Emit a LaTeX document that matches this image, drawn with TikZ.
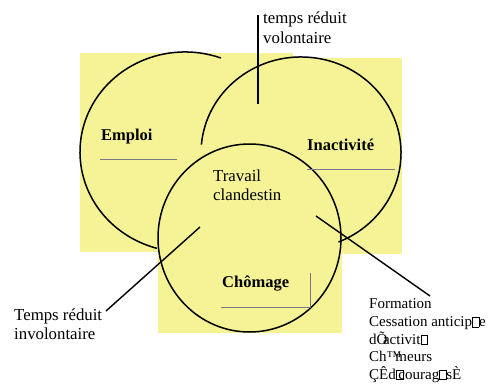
\documentclass[tikz,border=0pt]{standalone}
\usepackage{fontspec}
\setmainfont{Liberation Serif}
\newfontfamily\timesfont{Liberation Serif}
\definecolor{paper}{RGB}{245,243,150}
\definecolor{rulegray}{RGB}{120,120,135}
\newcommand\gbx{\mbox{\setlength\fboxsep{0pt}\setlength\fboxrule{0.4pt}\fbox{\rule{0pt}{0.62em}\hspace{0.42em}}}}
\tikzset{
 zone/.style={fill=paper, draw=none},
 ring/.style={draw=black, line width=1.5pt},
 guide/.style={draw=rulegray, line width=0.9pt},
 leader/.style={draw=black, line width=1.4pt},
 lbl/.style={anchor=base west, inner sep=0pt, font=\fontsize{16.8}{19}\selectfont},
 blbl/.style={anchor=base west, inner sep=0pt, font=\fontsize{16.5}{18}\selectfont\bfseries},
 tlbl/.style={anchor=base west, inner sep=0pt, font=\timesfont\fontsize{15}{18}\selectfont},
}
\begin{document}
\begin{tikzpicture}[x=1pt,y=-1pt]
\useasboundingbox (0,0) rectangle (492,385);
% yellow zones
\fill[zone] (80,53) rectangle (293,252);
\fill[zone] (200,58) rectangle (402,254);
\fill[zone] (158,200) rectangle (342,333);
% circles
\draw[ring] (220.9,58.0) arc[start angle=-70, end angle=-254.5, x radius=105, y radius=100];
\draw[ring] (201.4,144.6) arc[start angle=185, end angle=428, x radius=100, y radius=96];
\draw[ring] (249.5,238) ellipse[x radius=91.5, y radius=94];
% gray guide lines
\draw[guide] (100,159) -- (177,159);
\draw[guide] (307,169) -- (395,169);
\draw[guide] (221,307) -- (310,307) -- (310,273);
% labels
\node[blbl] (emp) at (101,140) {Emploi};
\node[blbl] (ina) at (307,150) {Inactivité};
\node[blbl] (cho) at (222,287) {Chômage};
\node[lbl] (tc1) at (213,181) {Travail};
\node[lbl] (tc2) at (213,200) {clandestin};
\node[lbl] (tv1) at (263,24) {temps réduit};
\node[lbl] (tv2) at (263,44) {volontaire};
\node[lbl] (ti1) at (14,320) {Temps réduit};
\node[lbl] (ti2) at (14,339) {involontaire};
\node[tlbl] (f1) at (369,308.3) {Formation};
\node[tlbl] (f2) at (369,326.7) {Cessation anticip\gbx e};
\node[tlbl] (f3) at (369,344.3) {dÕ\kern-0.3em activit\gbx};
\node[tlbl] (f4) at (369,361.7) {Ch™\kern-0.4em meurs};
\node[tlbl] (f5) at (369,379.3) {ÇÊd\gbx\kern-0.3em courag\gbx sÈ};
% connectors
\coordinate (vtop) at (258,15);
\coordinate (vbot) at (258,104);
\coordinate (lin) at (200,227);
\coordinate (lout) at (106,311);
\coordinate (rin) at (316,216);
\coordinate (rout) at (430,296);
\draw[leader, line width=2pt] (vtop) -- (vbot);
\draw[leader] (lin) -- (lout);
\draw[leader] (rin) -- (rout);
\end{tikzpicture}
\end{document}
